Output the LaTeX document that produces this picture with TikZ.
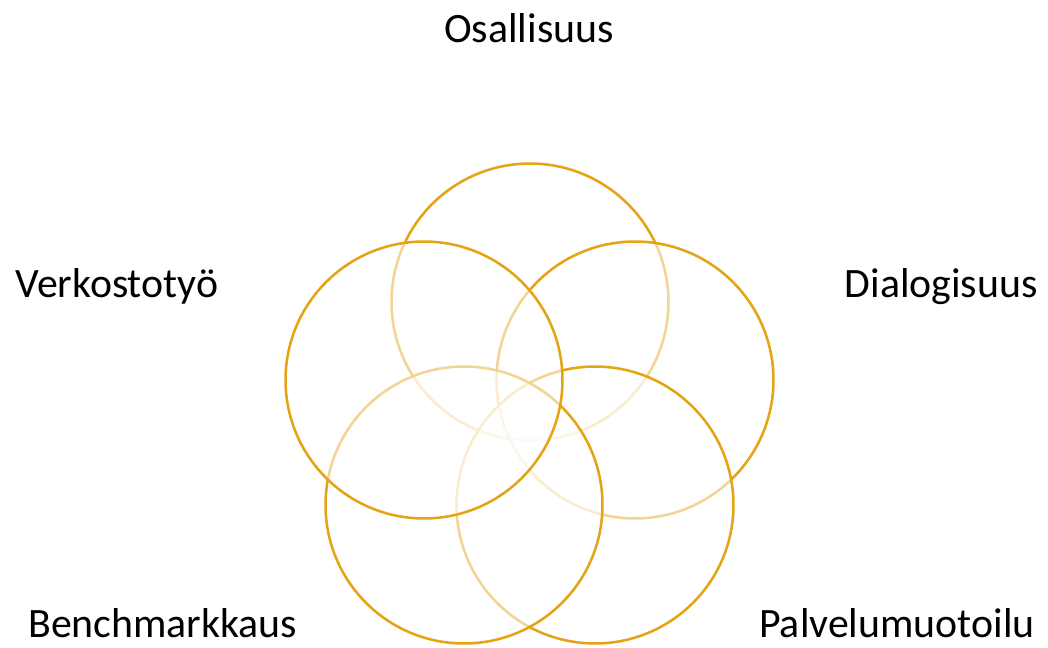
\documentclass[tikz,border=0pt]{standalone}
\usepackage{fontspec}
\setmainfont{Carlito}
\definecolor{gold}{RGB}{228,164,22}

\begin{document}
\begin{tikzpicture}[x=0.02cm, y=-0.02cm,
    ring/.style={circle, draw=gold, line width=1.45pt, fill=white, fill opacity=0.55, draw opacity=1, minimum size=5.54cm, inner sep=0pt},
    lbl/.style={font=\fontsize{23.8}{28}\selectfont, inner sep=0pt}]
    \useasboundingbox (0,0) rectangle (1048,648);
    % circles, drawn in order so the white fill fades the earlier ones
    \node[ring] (osa) at (530,302) {};
    \node[ring] (dia) at (635,380) {};
    \node[ring] (pal) at (595,505) {};
    \node[ring] (ben) at (464,505) {};
    \node[ring] (ver) at (424,380) {};
    % labels
    \node[lbl, anchor=base] (tosa) at (529,43) {Osallisuus};
    \node[lbl, anchor=base west] (tver) at (15,298) {Verkostotyö};
    \node[lbl, anchor=base east] (tdia) at (1038,298) {Dialogisuus};
    \node[lbl, anchor=base west] (tben) at (28,637) {Benchmarkkaus};
    \node[lbl, anchor=base east] (tpal) at (1035,637) {Palvelumuotoilu};
\end{tikzpicture}
\end{document}
